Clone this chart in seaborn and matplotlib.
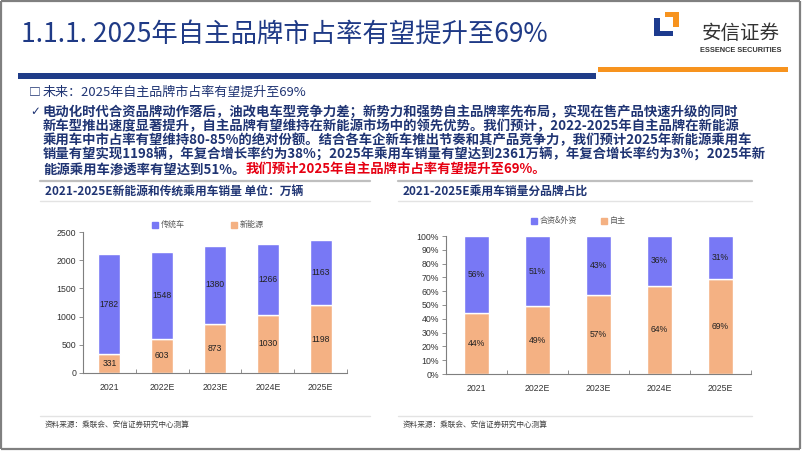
import matplotlib
matplotlib.use("Agg")
import matplotlib.pyplot as plt
import seaborn as sns
import pandas as pd
from matplotlib.patches import Rectangle, Polygon
from matplotlib.lines import Line2D

# ---------------- data ----------------
years = ["2021", "2022E", "2023E", "2024E", "2025E"]
nev_sales = [331, 603, 873, 1030, 1198]          # 新能源 (万辆)
ice_sales = [1782, 1548, 1380, 1266, 1163]       # 传统车 (万辆)
own_share = [44, 49, 57, 64, 69]                 # 自主 (%)
jv_share = [56, 51, 43, 36, 31]                  # 合资&外资 (%)
left_yticks = [0, 500, 1000, 1500, 2000, 2500]
right_yticks = [0, 10, 20, 30, 40, 50, 60, 70, 80, 90, 100]

title_text = "1.1.1. 2025年自主品牌市占率有望提升至69%"
header_text = "未来：2025年自主品牌市占率有望提升至69%"
para_lines = [
    "电动化时代合资品牌动作落后，油改电车型竞争力差；新势力和强势自主品牌率先布局，实现在售产品快速升级的同时",
    "新车型推出速度显著提升，自主品牌有望维持在新能源市场中的领先优势。我们预计，2022-2025年自主品牌在新能源",
    "乘用车中市占率有望维持80-85%的绝对份额。结合各车企新车推出节奏和其产品竞争力，我们预计2025年新能源乘用车",
    "销量有望实现1198辆，年复合增长率约为38%；2025年乘用车销量有望达到2361万辆，年复合增长率约为3%；2025年新",
    "能源乘用车渗透率有望达到51%。",
]
red_text = "我们预计2025年自主品牌市占率有望提升至69%。"
left_title = "2021-2025E新能源和传统乘用车销量 单位：万辆"
right_title = "2021-2025E乘用车销量分品牌占比"
source_text = "资料来源：乘联会、安信证券研究中心测算"

# ---------------- style ----------------
sns.set_theme(style="white")
plt.rcParams['font.family'] = ['Noto Sans CJK SC', 'DejaVu Sans']

BLUE = '#7878F5'
ORANGE = '#F4B183'
NAVY = '#1F3A86'
TXT_NAVY = '#1F3473'
RED = '#E60012'
AXC = '#7F7F7F'

W, H = 802, 451
fig = plt.figure(figsize=(8.02, 4.51), dpi=100)
fig.patch.set_facecolor('white')

bg = fig.add_axes([0, 0, 1, 1], zorder=0)
bg.set_xlim(0, W)
bg.set_ylim(H, 0)
bg.axis('off')

# frame
for (x0, y0, x1, y1) in [(1, 0.5, 800, 0.5), (1, 0.5, 1, 449), (800, 0.5, 800, 449), (1, 449, 800, 449)]:
    bg.plot([x0, x1], [y0, y1], color='#808080', lw=1.6, solid_capstyle='butt')

# title
bg.text(21, 34, title_text, fontsize=19, color=NAVY, va='center', ha='left')

# header bars
bg.add_patch(Rectangle((18, 73), 578, 6, color='#1F3C88', lw=0))
bg.add_patch(Rectangle((598, 67), 190, 5, color='#F7931E', lw=0))

# logo
bg.add_patch(Polygon([(654, 18), (660, 18), (660, 31), (673, 31), (673, 36), (654, 36)],
                     closed=True, color='#1D3B8E', lw=0))
bg.add_patch(Polygon([(665, 12), (679, 12), (679, 27), (673, 27), (673, 17), (665, 17)],
                     closed=True, color='#F7931E', lw=0))
bg.text(741, 33, "安信证券", fontsize=14, color='#333333', ha='center', va='center')
bg.text(741, 50, "ESSENCE SECURITIES", fontsize=5.3, color='#333333', ha='center', va='center',
        fontweight='bold', family=['Liberation Sans', 'DejaVu Sans'])

# header + paragraph
bg.text(29, 92, "□", fontsize=8.5, color=TXT_NAVY, ha='left', va='center', fontweight='bold')
bg.text(43, 92, header_text, fontsize=9.4, color=TXT_NAVY, ha='left', va='center')
bg.text(30, 112, "✓", fontsize=8.5, color=TXT_NAVY, ha='left', va='center', family=['DejaVu Sans'])
line_y = [112, 126.3, 140.6, 154.9, 169.2]
last = None
for s, y in zip(para_lines, line_y):
    last = bg.text(43, y, s, fontsize=9.6, color=TXT_NAVY, ha='left', va='center', fontweight='bold')
fig.canvas.draw()
bb = last.get_window_extent(renderer=fig.canvas.get_renderer())
bg.text(bb.x1, line_y[-1], red_text, fontsize=9.6, color=RED, ha='left', va='center', fontweight='bold')

# separators
for (x0, x1) in [(40, 370), (398, 752)]:
    bg.plot([x0, x1], [181, 181], color='#BFBFBF', lw=1.6)
    bg.plot([x0, x1], [201, 201], color='#E3E3E3', lw=1.0)
    bg.plot([x0, x1], [416, 416], color='#E3E3E3', lw=1.0)

bg.text(45, 191, left_title, fontsize=8.5, color=TXT_NAVY, fontweight='bold', ha='left', va='center')
bg.text(403, 191, right_title, fontsize=8.5, color=TXT_NAVY, fontweight='bold', ha='left', va='center')
bg.text(45, 425, source_text, fontsize=5.5, color='#404040', ha='left', va='center')
bg.text(403, 425, source_text, fontsize=5.5, color='#404040', ha='left', va='center')


def style_axis(ax, yticks, ylim, fmt):
    ax.set_xlim(-0.5, 4.5)
    ax.set_ylim(*ylim)
    ax.set_yticks(yticks)
    ax.set_yticklabels([fmt(v) for v in yticks])
    ax.set_xticks(range(len(years)))
    ax.set_xticklabels(years)
    ax.set_xticks([i - 0.5 for i in range(len(years) + 1)], minor=True)
    ax.set_xlabel("")
    ax.set_ylabel("")
    sns.despine(ax=ax)
    for sp in ['left', 'bottom']:
        ax.spines[sp].set_color(AXC)
        ax.spines[sp].set_linewidth(0.8)
    ax.tick_params(axis='y', left=True, length=3, width=0.6, color=AXC, pad=2,
                   labelsize=6.3, labelcolor='#333333')
    ax.tick_params(axis='x', which='major', bottom=False, length=0, pad=7,
                   labelsize=6.3, labelcolor='#333333')
    ax.tick_params(axis='x', which='minor', bottom=True, direction='in', length=3,
                   width=0.6, color=AXC)
    for lbl in ax.get_xticklabels() + ax.get_yticklabels():
        lbl.set_fontfamily(['Liberation Sans', 'DejaVu Sans'])
    ax.set_facecolor('none')
    ax.grid(False)


# ---------------- left chart ----------------
df_left = pd.DataFrame({"year": years, "nev": nev_sales, "ice": ice_sales})
axL = fig.add_axes([83 / W, 1 - 373 / H, 264 / W, 141 / H], zorder=2)
sns.barplot(data=df_left, x="year", y="nev", color=ORANGE, saturation=1, width=0.42,
            errorbar=None, ax=axL)
sns.barplot(data=df_left, x="year", y="ice", bottom=nev_sales, color=BLUE, saturation=1,
            width=0.42, errorbar=None, ax=axL)
style_axis(axL, left_yticks, (0, 2500), lambda v: f"{v}")
for cont, vals in zip(axL.containers, [nev_sales, ice_sales]):
    axL.bar_label(cont, labels=[f"{v}" for v in vals], label_type='center', fontsize=6.2,
                  color='#222222', family=['Liberation Sans', 'DejaVu Sans'])
hL = [Line2D([], [], ls='', marker='s', markersize=4, color=BLUE),
      Line2D([], [], ls='', marker='s', markersize=4, color=ORANGE)]
legL = axL.legend(hL, ["传统车", "新能源"], loc='center', bbox_to_anchor=(0.473, 1.05), ncol=2,
                  frameon=False, fontsize=5.8, handlelength=0.8, handletextpad=0.36,
                  columnspacing=5.6, borderpad=0, borderaxespad=0)
for t in legL.get_texts():
    t.set_color('#595959')

# ---------------- right chart ----------------
df_right = pd.DataFrame({"year": years, "own": own_share, "jv": jv_share})
axR = fig.add_axes([446 / W, 1 - 374 / H, 305 / W, 138 / H], zorder=2)
sns.barplot(data=df_right, x="year", y="own", color=ORANGE, saturation=1, width=0.40,
            errorbar=None, ax=axR)
sns.barplot(data=df_right, x="year", y="jv", bottom=own_share, color=BLUE, saturation=1,
            width=0.40, errorbar=None, ax=axR)
style_axis(axR, right_yticks, (0, 100), lambda v: f"{v}%")
for cont, vals in zip(axR.containers, [own_share, jv_share]):
    axR.bar_label(cont, labels=[f"{v}%" for v in vals], label_type='center', fontsize=6.2,
                  color='#222222', family=['Liberation Sans', 'DejaVu Sans'])
hR = [Line2D([], [], ls='', marker='s', markersize=4, color=BLUE),
      Line2D([], [], ls='', marker='s', markersize=4, color=ORANGE)]
legR = axR.legend(hR, ["合资&外资", "自主"], loc='center', bbox_to_anchor=(0.434, 1.109), ncol=2,
                  frameon=False, fontsize=5.8, handlelength=0.8, handletextpad=0.36,
                  columnspacing=2.9, borderpad=0, borderaxespad=0)
for t in legR.get_texts():
    t.set_color('#595959')

fig.savefig("out.png", dpi=100, facecolor='white')
